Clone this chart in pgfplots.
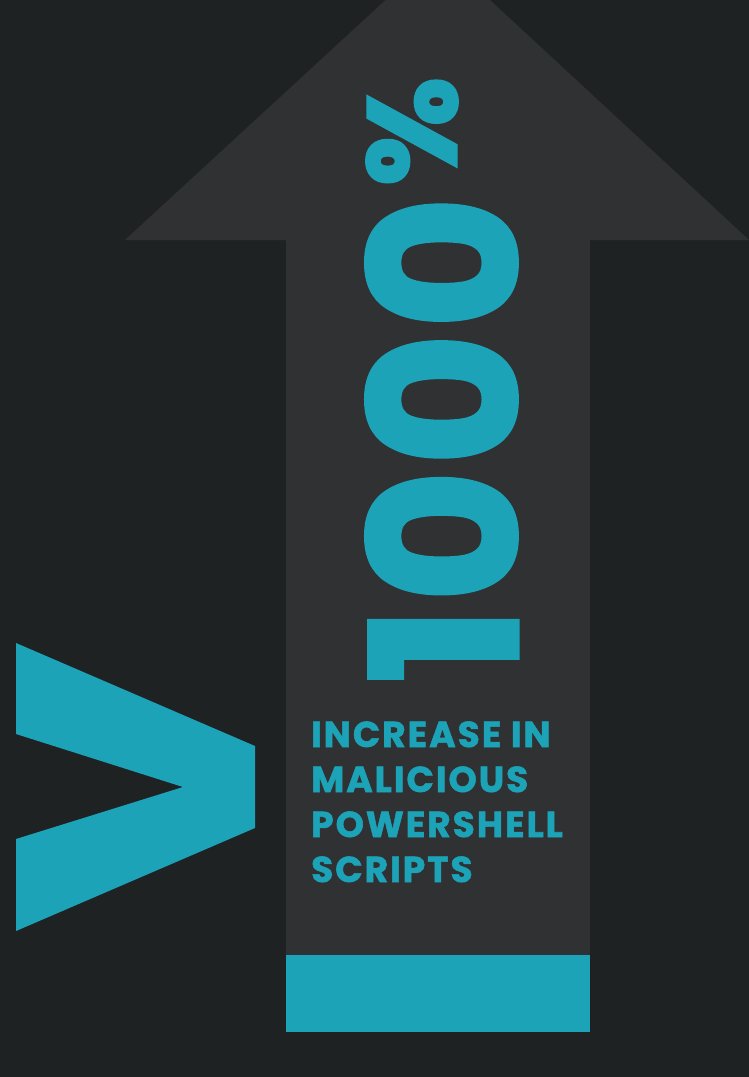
\documentclass[border=0pt]{standalone}
\usepackage{pgfplots}
\pgfplotsset{compat=1.18}
\usepackage{fontspec}
\setmainfont{Poppins}
\newfontfamily\bignum{Poppins}[BoldFeatures={FakeBold=2.5}]
\newfontfamily\smalltxt{Poppins}[BoldFeatures={FakeBold=1.5, LetterSpace=5.5}]
\definecolor{bgdark}{HTML}{1F2223}
\definecolor{arrowgray}{HTML}{303133}
\definecolor{teal}{HTML}{1CA3B8}
\begin{document}
\begin{tikzpicture}
\begin{axis}[%
width=749pt,
height=1077pt,
scale only axis,
xmin=0, xmax=749,
ymin=0, ymax=1077,
y dir=reverse,
hide axis,
axis background/.style={fill=bgdark},
]
% arrow shaft
\addplot[draw=none, fill=arrowgray] coordinates {(286,240) (590,240) (590,1031) (286,1031)} -- cycle;
% arrow head
\addplot[draw=none, fill=arrowgray] coordinates {(125,240) (385.6,0) (490,0) (749,240)} -- cycle;
% teal base bar
\addplot[draw=none, fill=teal] coordinates {(286,955) (590,955) (590,1031.5) (286,1031.5)} -- cycle;
% big chevron
\addplot[draw=none, fill=teal] coordinates {(16,643) (255,746) (255,828) (16,931) (16,839) (183,787) (16,734)} -- cycle;

\node[rotate=90, anchor=base west, inner sep=0pt, text=teal,
  font=\fontsize{202}{202}\bignum\bfseries] at (axis cs:517,683) {1\kern5pt 0\kern5pt 0\kern5pt 0};
\node[rotate=90, anchor=base west, inner sep=0pt, text=teal,
  font=\fontsize{125}{125}\bignum\bfseries] at (axis cs:456,186) {\%};

\node[anchor=base west, inner sep=0pt, text=teal, font=\fontsize{36}{36}\smalltxt\bfseries] at (axis cs:311,747) {INCREASE IN};
\node[anchor=base west, inner sep=0pt, text=teal, font=\fontsize{36}{36}\smalltxt\bfseries] at (axis cs:311,792) {MALICIOUS};
\node[anchor=base west, inner sep=0pt, text=teal, font=\fontsize{36}{36}\smalltxt\bfseries] at (axis cs:311,837) {POWERSHELL};
\node[anchor=base west, inner sep=0pt, text=teal, font=\fontsize{36}{36}\smalltxt\bfseries] at (axis cs:311,882) {SCRIPTS};
\end{axis}
\end{tikzpicture}
\end{document}
